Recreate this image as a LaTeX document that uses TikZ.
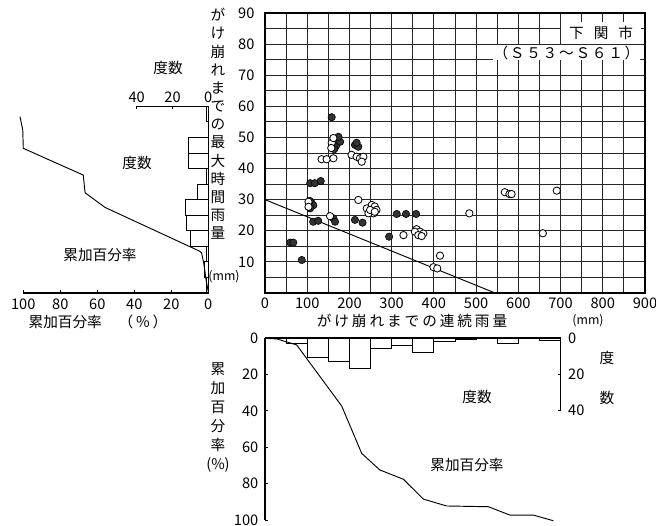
\documentclass[tikz,border=0pt]{standalone}
\usepackage{fontspec}
\setmainfont{Noto Sans CJK JP}
\tikzset{
	txt/.style={font=\fontsize{12.5}{15}\selectfont, inner sep=0.5pt},
	gridline/.style={line width=0.75pt, black!85},
	frame/.style={line width=1.1pt},
	bar/.style={line width=0.7pt},
	curve/.style={line width=0.8pt},
	dot/.style={fill=black!80, draw=black, line width=0.5pt},
	ring/.style={fill=white, draw=black, line width=0.7pt},
}

\begin{document}
\begin{tikzpicture}[x=0.3mm, y=0.3mm]
	\useasboundingbox (0,0) rectangle (656,526);
	% scatter: rainfall to failure
	\begin{scope}[shift={(265,233)}, x=0.12667mm, y=0.93333mm]
		\foreach \x in {50,100,...,850}
			\draw[gridline] (\x,0) -- (\x,90);
		\foreach \y in {5,10,...,85}
			\draw[gridline] (0,\y) -- (900,\y);
		\draw[frame] (0,0) rectangle (900,90);
		\foreach \y in {10,20,...,90}
			\node[txt, anchor=east] (yt\y) at (-23,\y) {\y};
		\foreach \x in {0,100,...,900}
			\node[txt, anchor=north] (xt\x) at (\x,-1.3) {\x};
		% place name
		\node[txt, fill=white, minimum width=24mm, minimum height=6.6mm] (city) at (796,83.5) {下\hspace{3mm}関\hspace{3mm}市};
		\node[txt, fill=white, minimum width=44mm, minimum height=3.9mm] (term) at (714,77.3) {\addfontfeature{LetterSpace=12}（Ｓ５３～Ｓ６１）};
		\draw[curve] (0,30) -- (545,0);
		\foreach \x/\y in {158/56.5, 168/47.2, 171/49.2, 178/48.6, 174/50.2, 164/46.2,
				213/47.6, 221/47, 217/48.3, 107/35.3, 118/35.3, 132/36,
				111/28.8, 114.5/28.2, 107/27.2, 106/29.6, 114/22.9, 126/23.2,
				162/24, 166/22.9, 60/16.2, 67/16.2, 87/10.6, 213/23.5, 231/22.6,
				312/25.4, 334/25.4, 358/25.4, 294/18.1}
			\filldraw[dot] (\x,\y) circle[radius=1.1mm];
		\foreach \x/\y in {134/43, 146/43, 162/43.3, 158/48.3, 162/49.8, 157/46.6,
				205/44.4, 217/43.8, 225/43.3, 233/43.8, 229/42.2,
				103/29.3, 103/27.7, 154/24.7, 221/29.9,
				241/27.2, 253/28.3, 260/27.8, 264/26.7, 257/25.6, 245/25.6, 249/26.7, 260/26.1,
				328/18.6, 359/20.5, 367/19.7, 375/19.1, 355/19.7, 363/18.6, 371/18.3,
				414.5/12, 399/8.3, 408/7.9, 484/25.6, 568/32.4, 579/31.8, 584/31.8,
				691/32.9, 658/19.2}
			\filldraw[ring] (\x,\y) circle[radius=1.1mm];
	\end{scope}
	\node[txt, align=center, font=\fontsize{12.5}{15.5}\selectfont] (ylab) at (218,402)
		{が\\け\\崩\\れ\\ま\\で\\の\\最\\大\\時\\間\\雨\\量};
	\node[txt, font=\fontsize{10.5}{12}\selectfont] (yunit) at (224,249) {(mm)};
	\node[txt] (xlab) at (412,205) {\addfontfeature{LetterSpace=20}がけ崩れまでの連続雨量};
	\node[txt, font=\fontsize{10.5}{12}\selectfont] (xunit) at (588,205) {(mm)};

	% left: frequency of hourly rainfall
	\begin{scope}[shift={(208.3,233)}, x=-0.537mm, y=0.93333mm]
		\draw[frame] (40,60) -- (0,60) -- (0,0);
		\foreach \c in {0,20,40} {
			\draw[bar] (\c,60) -- (\c,59);
			\node[txt, anchor=south] (lt\c) at (\c,61) {\c};
		}
		\foreach \lo/\n in {0/1, 5/2, 10/1, 15/10, 20/12, 25/13, 30/6, 35/1, 40/11, 45/11, 55/1}
			\draw[bar] (0,\lo) rectangle (\n,\lo+5);
	\end{scope}
	\begin{scope}[shift={(208.3,233)}, x=-0.555mm, y=0.93333mm]
		\draw[frame] (0,0) -- (100,0);
		\foreach \p in {0,20,...,100} {
			\draw[bar] (\p,0) -- (\p,1);
			\node[txt, anchor=north] (lb\p) at (\p,-1.5) {\p};
		}
		\draw[curve] (0,0.4) -- (1.2,4.2) -- (2.3,9) -- (3.6,12.9) -- (4.9,13.5)
			-- (55.8,27.5) -- (66.6,32.2) -- (67.6,37.9) -- (100,46.5)
			-- (100.3,52.4) -- (101.8,56.7);
	\end{scope}
	\node[txt] (lfreq) at (168,458) {度数};
	\node[txt] (lfreqin) at (137,363) {度数};
	\node[txt] (lcumin) at (100,271) {累加百分率};
	\node[txt] (lcum) at (98,204) {累加百分率\hspace{5mm}（\,％\,）};

	% bottom: frequency of continuous rainfall
	\begin{scope}[shift={(265,188)}, x=0.12667mm, y=-0.54mm]
		\draw[frame] (0,0) -- (700,0) -- (700,40);
		\foreach \c in {20,40}
			\draw[bar] (700,\c) -- (693,\c);
		\foreach \c in {0,20,40}
			\node[txt, anchor=west] (rt\c) at (716,\c) {\c};
		\foreach \lo/\n in {50/3, 100/11, 150/13, 200/17, 250/6, 300/4, 350/8, 400/2, 450/1, 550/3, 650/1.5}
			\draw[bar] (\lo,0) rectangle (\lo+50,\n);
	\end{scope}
	\begin{scope}[shift={(265,188)}, x=0.12667mm, y=-0.546mm]
		\draw[frame] (0,0) -- (0,100);
		\foreach \p in {0,20,...,100} {
			\draw[bar] (0,\p) -- (7,\p);
			\node[txt, anchor=east] (bt\p) at (-14,\p) {\p};
		}
		\draw[curve] (0,0.2) -- (27.7,0.5) -- (75,3.8) -- (181.7,37.4) -- (229,63.4)
			-- (272,72.5) -- (327.6,77.6) -- (375,88.5) -- (430,92.3) -- (529,92.7)
			-- (580,97.3) -- (635.5,97.3) -- (683,100.4);
	\end{scope}
	\node[txt, align=center, font=\fontsize{12.5}{16.2}\selectfont] (bcum) at (218,108.5)
		{累\\加\\百\\分\\率\\(\%)};
	\node[txt] (bfreq1) at (607,168) {度};
	\node[txt] (bfreq2) at (607,128) {数};
	\node[txt] (bfreqin) at (477,129) {度数};
	\node[txt] (bcumin) at (467,61) {累加百分率};
\end{tikzpicture}
\end{document}
